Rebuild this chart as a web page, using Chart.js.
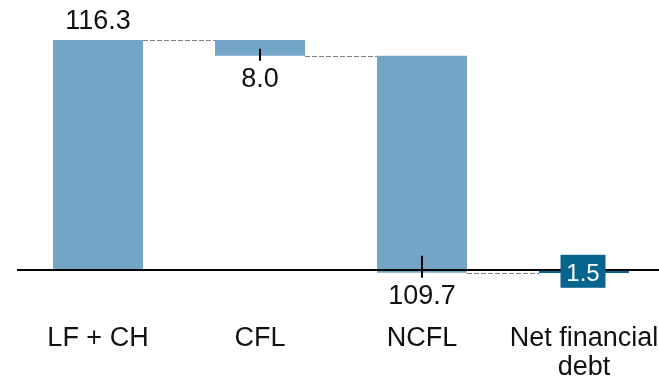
<!DOCTYPE html>
<html><head><meta charset="utf-8">
<script src="https://cdn.jsdelivr.net/npm/chart.js@4"></script>
<style>html,body{margin:0;padding:0;background:#fff;overflow:hidden;}
#clip{width:659px;height:382px;overflow:hidden;position:relative;}
#wrap{width:680px;height:382px;position:absolute;left:0;top:0;}</style>
</head><body><div id="clip"><div id="wrap"><canvas id="c"></canvas></div></div>
<script>
const categories = ['LF + CH', 'CFL', 'NCFL', ['Net financial', 'debt']];
const values = [116.3, -8.0, -109.7, -1.5];
const kinds = ['total', 'delta', 'delta', 'total'];
const valueLabels = ['116.3', '8.0', '109.7', '1.5'];

const ranges = [];
const ends = [];
let run = 0;
for (let i = 0; i < values.length; i++) {
  if (kinds[i] === 'total') { ranges.push([0, values[i]]); run = values[i]; }
  else { ranges.push([run, run + values[i]]); run = run + values[i]; }
  ends.push(run);
}

const LIGHT = '#73a5c6', DARK = '#06648f';
const FONT = "'Liberation Sans', Arial, sans-serif";
const leaderUp = [0, 7, 17, 0];

const wfPlugin = {
  id: 'wf',
  afterDatasetsDraw(chart) {
    const ctx = chart.ctx, ys = chart.scales.y, ca = chart.chartArea;
    const meta = chart.getDatasetMeta(0);
    ctx.save();
    // connectors
    ctx.strokeStyle = '#808080'; ctx.lineWidth = 1; ctx.setLineDash([5, 2]);
    for (let i = 0; i < meta.data.length - 1; i++) {
      const a = meta.data[i], b = meta.data[i + 1];
      const y = Math.round(ys.getPixelForValue(ends[i])) + 0.5;
      ctx.beginPath();
      ctx.moveTo(a.x + a.width / 2, y); ctx.lineTo(b.x - b.width / 2, y); ctx.stroke();
    }
    ctx.setLineDash([]);
    // baseline
    const y0 = ys.getPixelForValue(0);
    ctx.strokeStyle = '#000'; ctx.lineWidth = 2;
    ctx.beginPath(); ctx.moveTo(ca.left, y0); ctx.lineTo(chart.width, y0); ctx.stroke();
    // labels
    for (let i = 0; i < meta.data.length; i++) {
      const el = meta.data[i];
      const top = Math.min(el.y, el.base), bot = Math.max(el.y, el.base);
      if (kinds[i] === 'total' && values[i] < 0) {
        const w = 45, h = 33, cy = y0 + 1.3;
        ctx.fillStyle = DARK;
        ctx.fillRect(el.x - w / 2 - 1, cy - h / 2, w, h);
        ctx.fillStyle = '#fff'; ctx.font = '24px ' + FONT;
        ctx.textAlign = 'center'; ctx.textBaseline = 'alphabetic';
        ctx.fillText(valueLabels[i], el.x - 1, cy + 9.4);
        continue;
      }
      ctx.fillStyle = '#111'; ctx.font = '27px ' + FONT;
      ctx.textAlign = 'center'; ctx.textBaseline = 'alphabetic';
      if (values[i] >= 0) {
        ctx.fillText(valueLabels[i], el.x, top - 10.7);
      } else {
        ctx.strokeStyle = '#000'; ctx.lineWidth = 2;
        ctx.beginPath(); ctx.moveTo(el.x, bot - leaderUp[i]); ctx.lineTo(el.x, bot + 5); ctx.stroke();
        ctx.fillText(valueLabels[i], el.x, bot + 31.5);
      }
    }
    ctx.restore();
  }
};

new Chart(document.getElementById('c'), {
  type: 'bar',
  data: {
    labels: categories,
    datasets: [{
      data: ranges,
      backgroundColor: kinds.map((k, i) => (k === 'total' && values[i] < 0) ? DARK : LIGHT),
      borderWidth: 0,
      borderSkipped: false,
      barPercentage: 0.5556,
      categoryPercentage: 1
    }]
  },
  options: {
    responsive: true,
    maintainAspectRatio: false,
    devicePixelRatio: 1,
    animation: false,
    layout: { padding: { left: 17, right: 15, top: 0, bottom: 0 } },
    plugins: { legend: { display: false }, tooltip: { enabled: false } },
    scales: {
      x: {
        grid: { display: false, drawTicks: false },
        border: { display: false },
        afterFit(scale) { scale.height = 72; },
        ticks: {
          color: '#111', padding: 13.5, maxRotation: 0, minRotation: 0, autoSkip: false,
          font: { family: FONT, size: 27, lineHeight: 1.08 }
        }
      },
      y: { display: false, min: -20.226, max: 136.52 }
    }
  },
  plugins: [wfPlugin]
});
</script></body></html>
